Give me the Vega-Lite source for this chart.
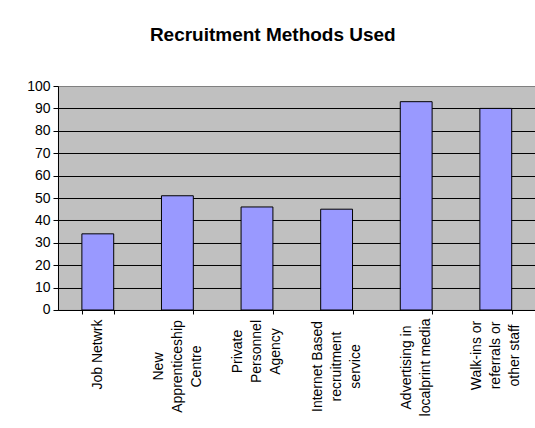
{
  "$schema": "https://vega.github.io/schema/vega-lite/v6.json",
  "autosize": "none",
  "width": 477.6,
  "height": 224,
  "padding": {"left": 58, "top": 86, "right": 0, "bottom": 118},
  "background": "white",
  "title": {
    "text": "Recruitment Methods Used",
    "font": "Liberation Sans",
    "fontSize": 19,
    "fontWeight": "bold",
    "color": "black",
    "anchor": "middle",
    "dx": -24,
    "offset": 34
  },
  "data": {
    "values": [
      {"method": "Job Netwrk", "value": 34},
      {"method": "New|Apprenticeship|Centre", "value": 51},
      {"method": "Private|Personnel|Agency", "value": 46},
      {"method": "Internet Based|recruitment|service", "value": 45},
      {"method": "Advertising in|localprint media", "value": 93},
      {"method": "Walk-ins or|referrals or|other staff", "value": 90}
    ]
  },
  "mark": {"type": "bar", "color": "#9999FF", "stroke": "black", "strokeWidth": 1},
  "encoding": {
    "x": {
      "field": "method",
      "type": "nominal",
      "sort": null,
      "scale": {"paddingInner": 0.6, "paddingOuter": 0.3},
      "axis": {
        "title": null,
        "labelExpr": "split(datum.label, '|')",
        "labelAngle": -90,
        "labelAlign": "center",
        "labelBaseline": "middle",
        "labelFont": "Liberation Sans",
        "labelFontSize": 14,
        "labelColor": "black",
        "labelLineHeight": 19,
        "labelPadding": {
          "condition": [
            {"test": "datum.value == 'Job Netwrk'", "value": 40},
            {"test": "datum.value == 'New|Apprenticeship|Centre'", "value": 52},
            {"test": "datum.value == 'Private|Personnel|Agency'", "value": 37},
            {"test": "datum.value == 'Internet Based|recruitment|service'", "value": 52},
            {"test": "datum.value == 'Advertising in|localprint media'", "value": 53},
            {"test": "datum.value == 'Walk-ins or|referrals or|other staff'", "value": 41}
          ],
          "value": 40
        },
        "labelOffset": {
          "condition": [
            {"test": "datum.value == 'Job Netwrk'", "value": 0},
            {"test": "datum.value == 'Advertising in|localprint media'", "value": -9.5}
          ],
          "value": -19
        },
        "tickBand": "extent",
        "ticks": true,
        "tickSize": 4,
        "tickColor": "black",
        "domainColor": "black",
        "labelLimit": 0,
        "labelOverlap": false
      }
    },
    "y": {
      "field": "value",
      "type": "quantitative",
      "scale": {"domain": [0, 100], "nice": false},
      "axis": {
        "title": null,
        "values": [0, 10, 20, 30, 40, 50, 60, 70, 80, 90, 100],
        "labelFont": "Liberation Sans",
        "labelFontSize": 14,
        "labelColor": "black",
        "labelPadding": 3,
        "tickSize": 5,
        "tickColor": "black",
        "domainColor": "black",
        "grid": true,
        "gridColor": {"condition": {"test": "datum.value == 100", "value": "#808080"}, "value": "black"},
        "gridOpacity": 1
      }
    }
  },
  "config": {
    "view": {"fill": "#C0C0C0", "stroke": "#808080", "strokeWidth": 1},
    "axis": {"domainWidth": 1, "tickWidth": 1, "gridWidth": 1}
  }
}
